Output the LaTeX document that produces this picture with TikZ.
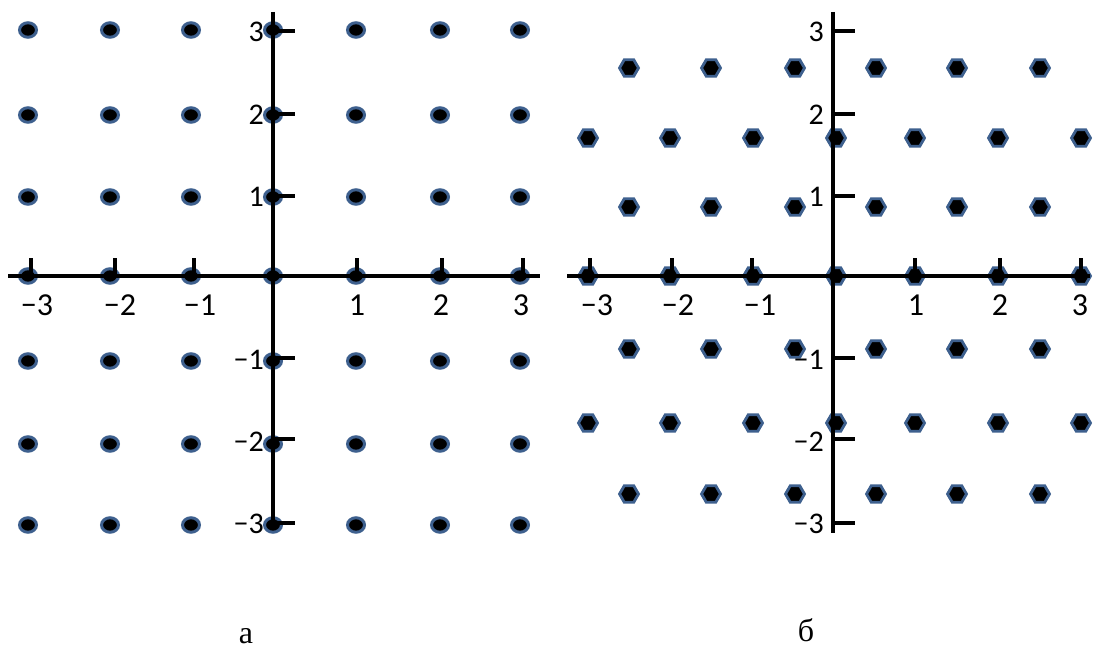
\documentclass[tikz,border=0pt]{standalone}
\usepackage{fontspec}
\setmainfont{Liberation Serif}
\newfontfamily\lblfont{Carlito}
\usetikzlibrary{shapes.geometric}
\definecolor{ring}{RGB}{62,96,142}
\begin{document}
\begin{tikzpicture}[x=1pt,y=-1pt,
  dotL/.style={ellipse,fill=black,draw=ring,line width=3pt,minimum width=17pt,minimum height=14.5pt,inner sep=0pt},
  dotH/.style={regular polygon,regular polygon sides=6,fill=black,draw=ring,line width=2.8pt,minimum size=19pt,inner sep=0pt},
  axis/.style={line width=3.6pt,black},
  tickmark/.style={line width=3.4pt,black},
  xl/.style={font=\lblfont\fontsize{32}{32}\selectfont,anchor=base,inner sep=0pt},
  yl/.style={font=\lblfont\fontsize{30}{30}\selectfont,anchor=base east,inner sep=0pt},
  captext/.style={font=\fontsize{32}{32}\selectfont,anchor=base,inner sep=0pt}]
\useasboundingbox (0,0) rectangle (1094,652);
% ---------- panel a: square lattice ----------
\foreach \x [count=\i] in {28,110,191,273,356,440,520}
  \foreach \y [count=\j] in {30,115,197,276,361,444,525}
    \node[dotL] (L\i\j) at (\x,\y) {};
\coordinate (LxW) at (8,276);  \coordinate (LxE) at (540,276);
\coordinate (LyN) at (273,12); \coordinate (LyS) at (273,527);
\draw[axis] (LxW) -- (LxE);
\draw[axis] (LyN) -- (LyS);
\foreach \t in {31,115,194,357,442,523}
  \draw[tickmark] (\t,276) -- (\t,258);
\foreach \t in {31,114,196,358,439,523}
  \draw[tickmark] (273,\t) -- (295,\t);
\node[xl] (lxm3) at (37,315) {−3};
\node[xl] (lxm2) at (120,315) {−2};
\node[xl] (lxm1) at (200,315) {−1};
\node[xl] (lxp1) at (357,315) {1};
\node[xl] (lxp2) at (441,315) {2};
\node[xl] (lxp3) at (521,315) {3};
\node[yl] (lyp3) at (264,42) {3};
\node[yl] (lyp2) at (264,125) {2};
\node[yl] (lyp1) at (264,207) {1};
\node[yl] (lym1) at (264,369) {−1};
\node[yl] (lym2) at (264,451) {−2};
\node[yl] (lym3) at (264,533) {−3};
\node[captext] (capa) at (246,643) {а};
% ---------- panel b: hexagonal lattice ----------
\foreach \y [count=\j] in {138,276,423}
  \foreach \x [count=\i] in {588,670,753,836,915,998,1081}
    \node[dotH] (HI\i\j) at (\x,\y) {};
\foreach \y [count=\j] in {68,207,349,494}
  \foreach \x [count=\i] in {629,711,795,876,957,1040}
    \node[dotH] (HH\i\j) at (\x,\y) {};
\coordinate (RxW) at (567,276);  \coordinate (RxE) at (1090,276);
\coordinate (RyN) at (833,12);   \coordinate (RyS) at (833,533);
\draw[axis] (RxW) -- (RxE);
\draw[axis] (RyN) -- (RyS);
\foreach \t in {590,672,752,915,1000,1081}
  \draw[tickmark] (\t,276) -- (\t,258);
\foreach \t in {31,114,196,358,439,523}
  \draw[tickmark] (833,\t) -- (855,\t);
\node[xl] (rxm3) at (597,315) {−3};
\node[xl] (rxm2) at (678,315) {−2};
\node[xl] (rxm1) at (760,315) {−1};
\node[xl] (rxp1) at (916,315) {1};
\node[xl] (rxp2) at (1000,315) {2};
\node[xl] (rxp3) at (1080,315) {3};
\node[yl] (ryp3) at (824,42) {3};
\node[yl] (ryp2) at (824,125) {2};
\node[yl] (ryp1) at (824,207) {1};
\node[yl] (rym1) at (824,369) {−1};
\node[yl] (rym2) at (824,451) {−2};
\node[yl] (rym3) at (824,533) {−3};
\node[captext] (capb) at (806,641) {б};
\end{tikzpicture}
\end{document}
